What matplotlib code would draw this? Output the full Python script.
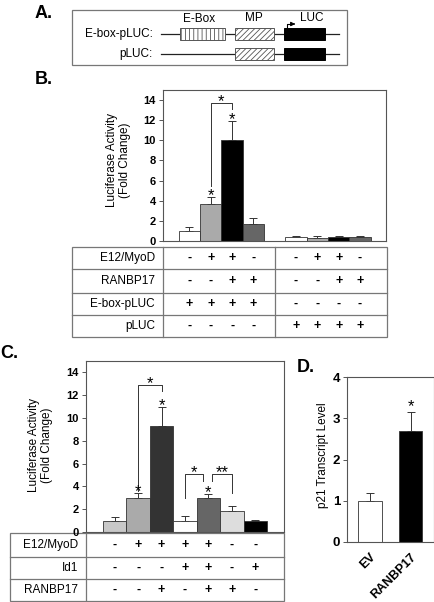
import matplotlib
matplotlib.use("Agg")
import matplotlib.pyplot as plt
from matplotlib.patches import Rectangle
from matplotlib.transforms import blended_transform_factory
import numpy as np

plt.rcParams['font.family'] = ['Liberation Sans', 'DejaVu Sans']
plt.rcParams['hatch.linewidth'] = 0.6

# ---- data ----
# panel B: luciferase activity, E-box-pLUC group then pLUC group
b_values = [1.0, 3.7, 10.0, 1.7, 0.4, 0.3, 0.4, 0.4]
b_errors = [0.4, 0.7, 1.9, 0.6, 0.1, 0.15, 0.1, 0.1]
b_colors = ['white', '#aaaaaa', 'black', '#666666'] * 2
b_rows = ['E12/MyoD', 'RANBP17', 'E-box-pLUC', 'pLUC']
b_signs = [
    ['-', '+', '+', '-', '-', '+', '+', '-'],
    ['-', '-', '+', '+', '-', '-', '+', '+'],
    ['+', '+', '+', '+', '-', '-', '-', '-'],
    ['-', '-', '-', '-', '+', '+', '+', '+'],
]

# panel C
c_values = [1.0, 3.0, 9.3, 1.0, 3.0, 1.8, 1.0]
c_errors = [0.3, 0.4, 1.7, 0.4, 0.3, 0.5, 0.05]
c_colors = ['#c8c8c8', '#aaaaaa', '#333333', 'white', '#666666', '#dddddd', 'black']
c_rows = ['E12/MyoD', 'Id1', 'RANBP17']
c_signs = [
    ['-', '+', '+', '+', '+', '-', '-'],
    ['-', '-', '-', '+', '+', '-', '+'],
    ['-', '-', '+', '-', '+', '+', '-'],
]

# panel D
d_labels = ['EV', 'RANBP17']
d_values = [1.0, 2.7]
d_errors = [0.2, 0.45]
d_colors = ['white', 'black']

W, H = 435, 602
GRID = '#777777'


def rect(x0, y0, x1, y1):
    # pixel box (top-left origin) -> figure fraction
    return [x0 / W, 1 - y1 / H, (x1 - x0) / W, (y1 - y0) / H]


fig = plt.figure(figsize=(W / 100, H / 100), dpi=100)

# overlay in pixel coordinates for diagram, tables and labels
ov = fig.add_axes([0, 0, 1, 1])
ov.set_xlim(0, W)
ov.set_ylim(H, 0)
ov.axis('off')


def style_axes(ax, ymax, yticks, size=8):
    ax.set_ylim(0, ymax)
    ax.set_yticks(yticks)
    for s in ax.spines.values():
        s.set_color('#555555')
        s.set_linewidth(0.8)
    ax.tick_params(axis='y', length=3, width=0.7, labelsize=size, pad=2, color='#555555')
    ax.tick_params(axis='x', bottom=False, labelbottom=False)
    for t in ax.get_yticklabels():
        t.set_fontweight('bold')
    ax.patch.set_alpha(0)


def draw_bars(ax, x, vals, errs, colors, width=1.0):
    ax.bar(x, vals, width=width, color=colors, edgecolor='#333333', linewidth=0.6, zorder=2)
    ax.errorbar(x, vals, yerr=[np.zeros(len(vals)), errs], fmt='none',
                ecolor='#333333', elinewidth=0.7, capsize=3, capthick=0.7, zorder=1)


def star(ax, x, y, label='*', lift=1):
    # asterisk sits about 6 px above the anchor point
    ax.annotate(label, xy=(x, y), xytext=(0, lift), textcoords='offset points',
                ha='center', va='center', fontsize=12)


def bracket(ax, x0, x1, ytop, yl, yr, label):
    ax.plot([x0, x0, x1, x1], [yl, ytop, ytop, yr], color='#333333', lw=0.7)
    star(ax, (x0 + x1) / 2, ytop, label)


def table(ax, rows, signs, x, left, right, divider, top, lines, bottom, groups=None):
    ov.add_patch(Rectangle((left, top), right - left, bottom - top, fill=False,
                           edgecolor=GRID, lw=0.9))
    ov.plot([divider, divider], [top, bottom], color=GRID, lw=0.9)
    for y in lines:
        ov.plot([left, right], [y, y], color=GRID, lw=0.9)
    if groups is not None:
        ov.plot([groups, groups], [top, bottom], color=GRID, lw=0.9)
    edges = [top] + lines + [bottom]
    tr = blended_transform_factory(ax.transData, ov.transData)
    for i, name in enumerate(rows):
        yc = (edges[i] + edges[i + 1]) / 2
        ov.text(divider - 8, yc, name, ha='right', va='center', fontsize=8.5)
        for xi, s in zip(x, signs[i]):
            ov.text(xi, yc, s, ha='center', va='center', fontsize=9,
                    fontweight='bold', transform=tr)


# ---- panel A: construct diagram ----
ov.text(35, 13, 'A.', fontsize=13, fontweight='bold', va='center')
ov.add_patch(Rectangle((72, 10), 275, 55, fill=False, edgecolor=GRID, lw=0.9))
for yl, name, ebox in [(34, 'E-box-pLUC:', True), (54, 'pLUC:', False)]:
    ov.text(153, yl, name, ha='right', va='center', fontsize=8.5)
    ov.plot([161, 339], [yl, yl], color='#222222', lw=0.9, zorder=1)
    if ebox:
        ov.add_patch(Rectangle((180, yl - 6), 45, 12, facecolor='white',
                               edgecolor='#555555', hatch='||||', lw=0.7, zorder=2))
    ov.add_patch(Rectangle((235, yl - 6), 39, 12, facecolor='white',
                           edgecolor='#555555', hatch='//////', lw=0.7, zorder=2))
    ov.add_patch(Rectangle((284, yl - 6), 41, 12, facecolor='black',
                           edgecolor='black', lw=0.7, zorder=2))
ov.text(199, 19, 'E-Box', ha='center', va='center', fontsize=8.5)
ov.text(254, 18, 'MP', ha='center', va='center', fontsize=8.5)
ov.text(312, 18, 'LUC', ha='center', va='center', fontsize=8.5)
ov.plot([287, 287, 292], [28, 24, 24], color='black', lw=0.8)
ov.annotate('', xy=(298, 24), xytext=(291, 24),
            arrowprops=dict(arrowstyle='-|>', color='black', lw=0.8, mutation_scale=6))

# ---- panel B ----
ov.text(35, 79, 'B.', fontsize=13, fontweight='bold', va='center')
axb = fig.add_axes(rect(163, 90, 386, 241))
xb = [0, 1, 2, 3, 5, 6, 7, 8]
draw_bars(axb, xb, b_values, b_errors, b_colors)
axb.set_xlim(-1.24, 9.22)
style_axes(axb, 15, range(0, 15, 2))
star(axb, 1, b_values[1] + b_errors[1])
star(axb, 2, b_values[2] + b_errors[2])
bracket(axb, 1, 2, 13.7, 5.5, 13.1, '*')
ov.text(112, 160, 'Luciferase Activity', rotation=90, ha='center', va='center', fontsize=8.5)
ov.text(125, 160, '(Fold Change)', rotation=90, ha='center', va='center', fontsize=8.5)
table(axb, b_rows, b_signs, xb, 72, 387, 163, 247, [269, 293, 315], 337, groups=275)

# ---- panel C ----
ov.text(0, 353, 'C.', fontsize=13, fontweight='bold', va='center')
axc = fig.add_axes(rect(86, 361, 284, 532))
xc = np.arange(len(c_values))
draw_bars(axc, xc, c_values, c_errors, c_colors)
axc.set_xlim(-1.23, 7.23)
style_axes(axc, 15, range(0, 15, 2))
star(axc, 1, c_values[1] + c_errors[1])
star(axc, 2, c_values[2] + c_errors[2])
star(axc, 4, c_values[4] + c_errors[4])
bracket(axc, 1, 2, 12.9, 3.6, 12.4, '*')
bracket(axc, 3, 3.77, 5.1, 3.0, 4.5, '*')
bracket(axc, 4.16, 5, 5.1, 4.5, 3.4, '**')
ov.text(34, 445, 'Luciferase Activity', rotation=90, ha='center', va='center', fontsize=8.5)
ov.text(47, 445, '(Fold Change)', rotation=90, ha='center', va='center', fontsize=8.5)
table(axc, c_rows, c_signs, xc, 10, 284, 86, 533, [557, 579], 601)

# ---- panel D ----
ov.text(297, 367, 'D.', fontsize=13, fontweight='bold', va='center')
axd = fig.add_axes(rect(347, 377, 434, 542))
xd = np.arange(len(d_values))
draw_bars(axd, xd, d_values, d_errors, d_colors, width=0.58)
axd.set_xlim(-0.57, 1.58)
style_axes(axd, 4, range(0, 5), size=9.5)
axd.set_xticks(xd)
axd.set_xticklabels(d_labels, rotation=45, ha='right', rotation_mode='anchor',
                    fontsize=9, fontweight='bold')
axd.tick_params(axis='x', labelbottom=True, pad=3)
star(axd, 1, d_values[1] + d_errors[1], lift=4)
ov.text(323, 455, 'p21 Transcript Level', rotation=90, ha='center', va='center', fontsize=8.5)

fig.savefig('out.png', dpi=100)
